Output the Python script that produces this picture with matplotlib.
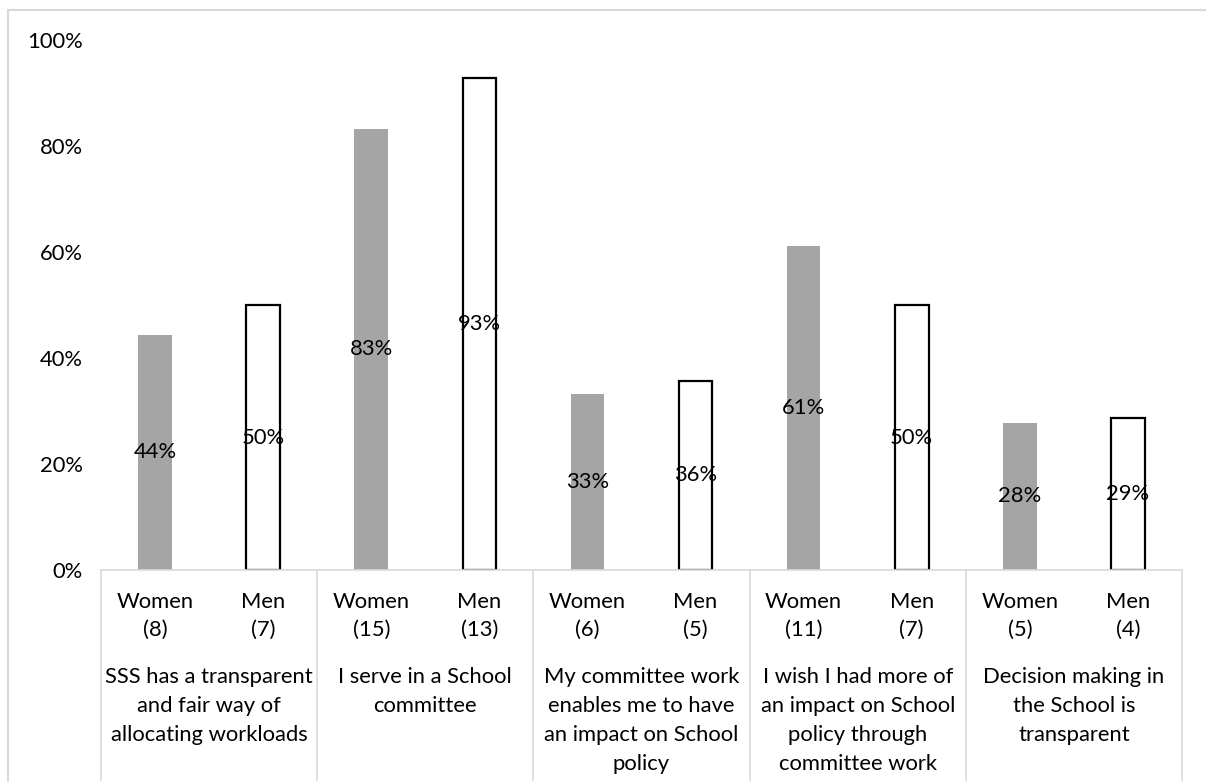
import matplotlib
matplotlib.use("Agg")
import matplotlib.pyplot as plt
from matplotlib.lines import Line2D
from matplotlib.transforms import blended_transform_factory

plt.rcParams['font.family'] = ['Lato', 'DejaVu Sans']

groups = ["SSS has a transparent\nand fair way of\nallocating workloads",
          "I serve in a School\ncommittee",
          "My committee work\nenables me to have\nan impact on School\npolicy",
          "I wish I had more of\nan impact on School\npolicy through\ncommittee work",
          "Decision making in\nthe School is\ntransparent"]
sub_labels = ["Women", "Men"] * 5
counts = ["(8)", "(7)", "(15)", "(13)", "(6)", "(5)", "(11)", "(7)", "(5)", "(4)"]
values = [0.444, 0.500, 0.833, 0.929, 0.333, 0.357, 0.611, 0.500, 0.278, 0.286]
pct_labels = ["44%", "50%", "83%", "93%", "33%", "36%", "61%", "50%", "28%", "29%"]

FS = 15.8
W, H = 1206, 783
fig = plt.figure(figsize=(W / 100, H / 100), dpi=100)
x0, x1 = 101, 1182
y0, y1 = 570, 40
ax = fig.add_axes([x0 / W, 1 - y0 / H, (x1 - x0) / W, (y0 - y1) / H])

n = len(values)
xs = list(range(n))
bw = 0.31
for i, (x, v) in enumerate(zip(xs, values)):
    if i % 2 == 0:
        ax.bar(x, v, width=bw, color="#a5a5a5", edgecolor="none", zorder=2)
    else:
        ax.bar(x, v, width=bw, color="white", edgecolor="black", linewidth=1.6, zorder=2)
    ax.text(x, v / 2, pct_labels[i], ha="center", va="center", fontsize=FS, color="black", zorder=3)

ax.set_xlim(-0.5, n - 0.5)
ax.set_ylim(0, 1.0)
ax.set_yticks([0, 0.2, 0.4, 0.6, 0.8, 1.0])
ax.set_yticklabels(["0%", "20%", "40%", "60%", "80%", "100%"], fontsize=FS)
ax.tick_params(axis="y", length=0, pad=13)
ax.set_xticks([])
for s in ["top", "right", "left"]:
    ax.spines[s].set_visible(False)
ax.spines["bottom"].set_color("#d9d9d9")
ax.spines["bottom"].set_linewidth(1.2)
ax.spines["bottom"].set_zorder(4)

tr = blended_transform_factory(ax.transData, fig.transFigure)
def fy(py):
    return 1 - py / H

for i, x in enumerate(xs):
    ax.text(x, fy(602), sub_labels[i], transform=tr, ha="center", va="center", fontsize=FS, clip_on=False)
    ax.text(x, fy(630), counts[i], transform=tr, ha="center", va="center", fontsize=FS, clip_on=False)

line_ys = [677, 706, 735, 764]
for g, lab in enumerate(groups):
    cx = 2 * g + 0.5
    for k, line in enumerate(lab.split("\n")):
        ax.text(cx, fy(line_ys[k]), line, transform=tr, ha="center", va="center", fontsize=FS, clip_on=False)

# group separators
for g in range(len(groups) + 1):
    xb = 2 * g - 0.5
    ax.add_line(Line2D([xb, xb], [fy(570), fy(780)], transform=tr, color="#d9d9d9", linewidth=1.2, clip_on=False))

# chart border (top and left visible)
fig.add_artist(Line2D([8 / W, 1.0], [fy(10), fy(10)], color="#d9d9d9", linewidth=1.5))
fig.add_artist(Line2D([8 / W, 8 / W], [fy(10), fy(781)], color="#d9d9d9", linewidth=1.5))

fig.savefig("out.png", dpi=100)
